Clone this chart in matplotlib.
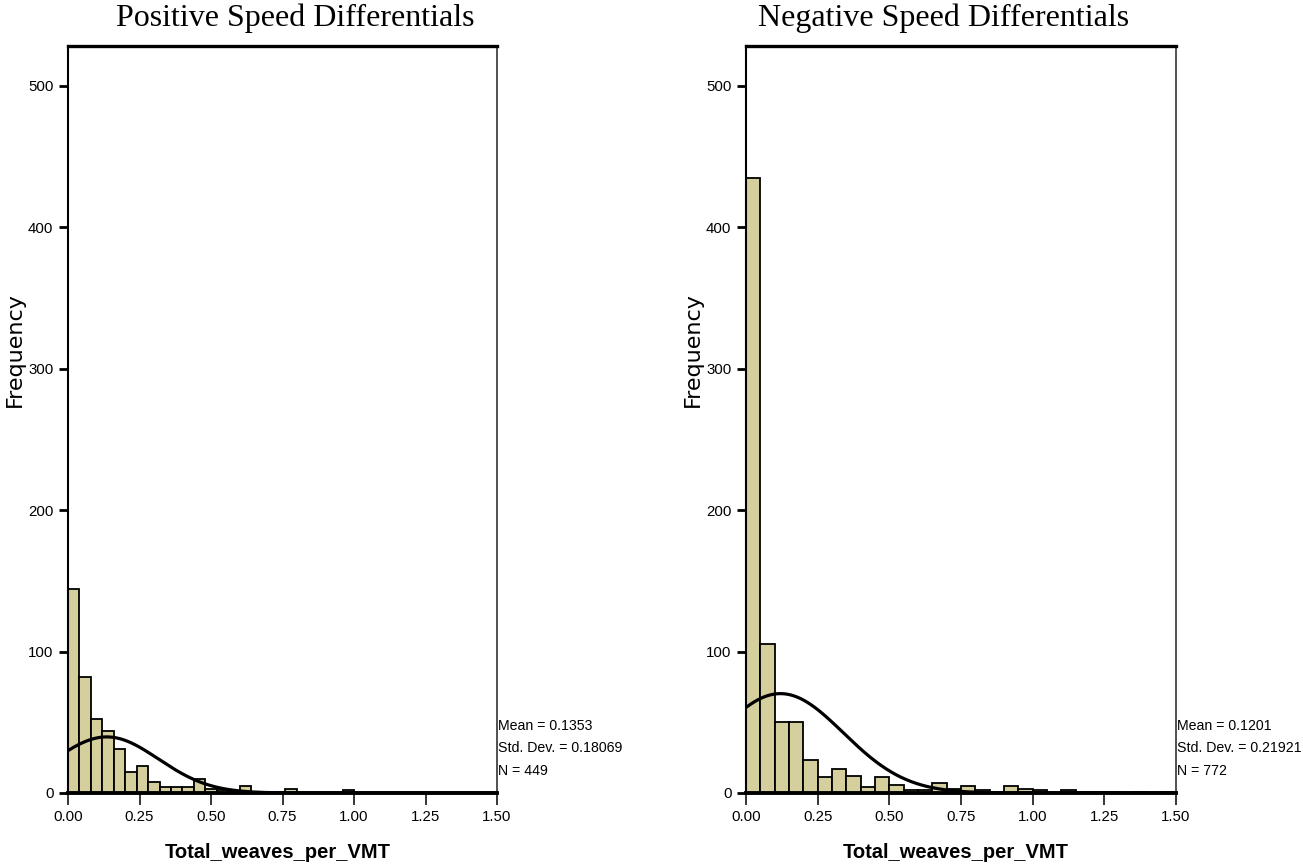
import numpy as np
import matplotlib
matplotlib.use("Agg")
import matplotlib.pyplot as plt

# histogram counts
pos_bin_width = 0.04
pos_counts = [144, 82, 52, 44, 31, 15, 19, 8, 4, 4, 4, 10, 3, 2, 1, 5, 0, 0, 1, 3,
              0, 0, 0, 0, 2, 0, 0, 0, 0, 0, 0, 0, 0, 0, 0, 0, 0, 0]
pos_mean, pos_sd, pos_n = 0.1353, 0.18069, 449

neg_bin_width = 0.05
neg_counts = [435, 105, 50, 50, 23, 11, 17, 12, 4, 11, 6, 2, 2, 7, 3, 5, 2, 1, 5, 3,
              2, 0, 2, 1, 1, 1, 0, 1, 0, 1]
neg_mean, neg_sd, neg_n = 0.1201, 0.21921, 772

x_ticks = [0.0, 0.25, 0.5, 0.75, 1.0, 1.25, 1.5]
y_ticks = [0, 100, 200, 300, 400, 500]

sans = ['Liberation Sans', 'DejaVu Sans']
serif = ['Liberation Serif', 'DejaVu Serif']

W, H = 1303, 867
fig = plt.figure(figsize=(W / 100, H / 100), dpi=100)


def panel(x0, x1, counts, bw, mean, sd, n, title, title_x):
    ax = fig.add_axes([x0 / W, (H - 793) / H, (x1 - x0) / W, (793 - 46) / H])
    edges = np.arange(len(counts)) * bw
    ax.bar(edges, counts, width=bw, align='edge', color='#D4CF9C',
           edgecolor='black', linewidth=1.3, zorder=2)
    # normal curve scaled to the counts
    xs = np.linspace(0, 1.5, 400)
    ys = n * bw * np.exp(-0.5 * ((xs - mean) / sd) ** 2) / (sd * np.sqrt(2 * np.pi))
    ax.plot(xs, ys, color='black', linewidth=2.3, zorder=3)

    ax.set_xlim(0, 1.5)
    ax.set_ylim(0, 528)
    ax.set_xticks(x_ticks)
    ax.set_xticklabels(['%.2f' % v for v in x_ticks], family=sans, fontsize=10.8)
    ax.set_yticks(y_ticks)
    ax.set_yticklabels([str(v) for v in y_ticks], family=sans, fontsize=10.8)
    ax.tick_params(axis='x', direction='out', length=8.5, width=1.1, pad=4)
    ax.tick_params(axis='y', direction='out', length=6.5, width=2.0, pad=4)

    ax.spines['top'].set_linewidth(2.4)
    ax.spines['bottom'].set_linewidth(2.8)
    ax.spines['left'].set_linewidth(1.5)
    ax.spines['right'].set_linewidth(1.2)
    ax.spines['right'].set_color('#333333')
    for s in ax.spines.values():
        s.set_zorder(4)

    # stats box on the right of the frame
    lines = ['Mean = %s' % mean, 'Std. Dev. = %s' % sd, 'N = %d' % n]
    for i, t in enumerate(lines):
        fig.text((x1 + 1) / W, 1 - (726 + 22.5 * i) / H, t, family=sans,
                 fontsize=10.2, ha='left', va='center')

    fig.text(title_x / W, 1 - 18 / H, title, family=serif, fontsize=23,
             ha='center', va='center')
    fig.text(((x0 + x1) / 2 - 5) / W, 1 - 853 / H, 'Total_weaves_per_VMT',
             family=sans, fontsize=14.5, fontweight='bold', ha='center', va='center')
    fig.text((x0 - 53) / W, 1 - 350 / H, 'Frequency', family='DejaVu Sans',
             fontsize=16, rotation=90, ha='center', va='center')
    return ax


panel(68, 497, pos_counts, pos_bin_width, pos_mean, pos_sd, pos_n,
      'Positive Speed Differentials', 295)
panel(746, 1176, neg_counts, neg_bin_width, neg_mean, neg_sd, neg_n,
      'Negative Speed Differentials', 944)

fig.savefig('out.png', dpi=100)
